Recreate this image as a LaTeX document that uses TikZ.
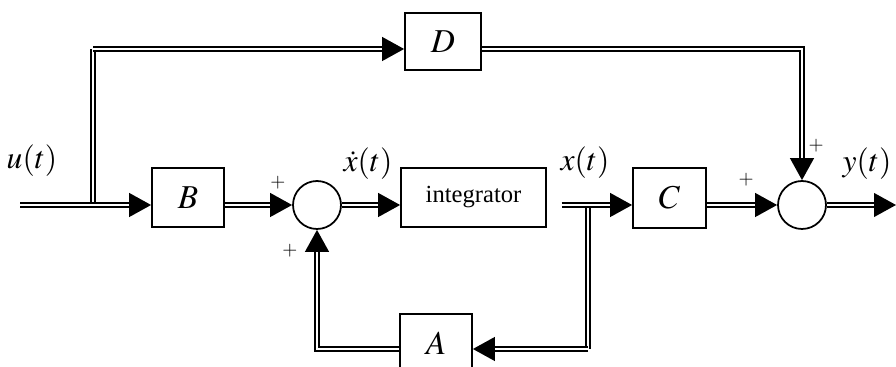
\documentclass[tikz,border=0pt]{standalone}
\usepackage{mathptmx}
\usepackage{fontspec}
\setmainfont{Liberation Serif}
\usetikzlibrary{arrows.meta}
\tikzset{
    block/.style={draw, line width=1pt, minimum width=1.44cm, minimum height=1.18cm,
        inner sep=0pt, font=\fontsize{19}{19}\selectfont},
    sum/.style={draw, circle, line width=1pt, minimum size=0.96cm, inner sep=0pt},
    sig/.style={draw, line width=1.05pt, double=white, double distance=1.2pt},
    sigto/.style={sig, -{Triangle[length=12.5pt,width=13.5pt]}},
    lbl/.style={font=\fontsize{18}{18}\selectfont},
    pls/.style={font=\fontsize{11}{11}\selectfont}
}

\begin{document}
\begin{tikzpicture}[x=0.02cm, y=-0.02cm]
\useasboundingbox (0,0) rectangle (896,367);

% blocks
\node[block] (B) at (188,197.5) {$B$};
\node[sum] (s1) at (317,205) {};
\node[block, minimum width=2.9cm, font=\fontsize{14}{14}\selectfont] (I) at (473.5,197.5) {integrator};
\node[block, minimum width=1.46cm, minimum height=1.2cm] (C) at (669.5,198) {$C$};
\node[sum] (s2) at (802,205) {};
\node[block, minimum width=1.52cm, minimum height=1.14cm] (D) at (443,41.5) {$D$};
\node[block] (A) at (436,343.5) {$A$};

% branch points
\coordinate (in) at (20,205);
\coordinate (u) at (93,205);
\coordinate (top) at (93,49);
\coordinate (x) at (588,205);
\coordinate (fb) at (588,349);
\coordinate (out) at (896,205);

% signals
\draw[sig] (u) -- (top);
\draw[sigto] (top) -- (top -| D.west);
\draw[sigto] (in) -- (in -| B.west);
\draw[sigto] (B.east |- in) -- (s1.west);
\draw[sigto] (s1.east) -- (s1 -| I.west);
\draw[sig] (x) -- (fb);
\draw[sig, shorten <=8\pgflinewidth] (I.east |- in) -- (x);
\draw[sigto] (x) -- (x -| C.west);
\draw[sigto] (C.east |- in) -- (s2.west);
\draw[sigto] (s2.east) -- (out);
\draw[sigto] (D.east |- top) -- (top -| s2) -- (s2.north);
\draw[sigto] (fb) -- (fb -| A.east);
\draw[sigto] (fb -| A.west) -| (s1.south);

% labels
\node[lbl] (lu) at (32,161) {$u(t)$};
\node[lbl] (lxd) at (368,164) {$\dot{x}(t)$};
\node[lbl] (lx) at (585,163) {$x(t)$};
\node[lbl] (ly) at (867,164) {$y(t)$};
\node[pls] (p1) at (278,183) {$+$};
\node[pls] (p2) at (290,251) {$+$};
\node[pls] (p3) at (746,180) {$+$};
\node[pls] (p4) at (816,146) {$+$};
\end{tikzpicture}
\end{document}
